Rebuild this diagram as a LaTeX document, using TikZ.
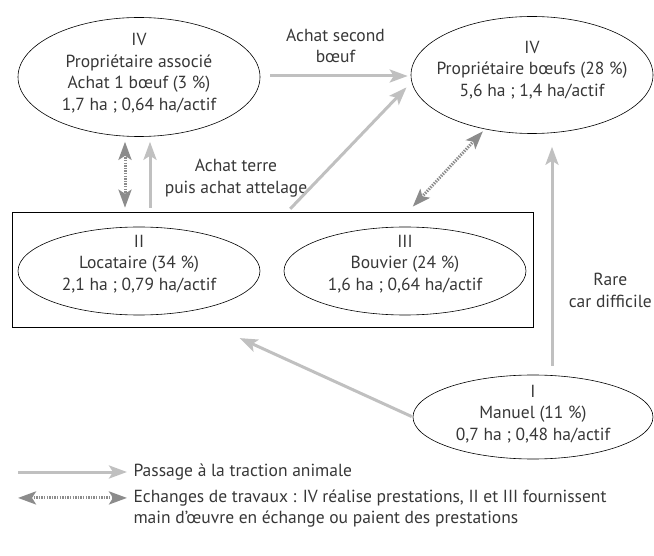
\documentclass[tikz,border=0pt]{standalone}
\usepackage{fontspec}
\setmainfont{PT Sans}
\usetikzlibrary{arrows.meta,shapes.geometric}
\definecolor{passgray}{RGB}{192,192,192}
\definecolor{swapgray}{RGB}{140,140,140}
\definecolor{textgray}{RGB}{55,55,55}
\tikzset{
  >={Stealth[length=18pt,width=13pt,inset=4pt]}   % default arrowhead
}

\begin{document}
\begin{tikzpicture}[x=1pt,y=-1pt,
  font=\fontsize{17.5}{21.5}\selectfont,text=textgray,
  group/.style={ellipse,draw,line width=0.6pt,inner sep=0pt,minimum width=242pt},
  pass/.style={->,draw=passgray,line width=3pt},
  swap/.style={<->,draw=swapgray,line width=3pt,dash pattern=on 1.4pt off 1.2pt}]
	\useasboundingbox (0,0) rectangle (654,556);

	% owners
	\node[group,minimum height=119pt,label={[align=center,yshift=4pt]center:{IV\\Propriétaire associé\\Achat 1 bœuf (3 \%)\\1,7 ha ; 0,64 ha/actif}}] (A) at (139,77) {};
	\node[group,minimum height=117pt,label={[align=center,yshift=5pt]center:{IV\\Propriétaire bœufs (28 \%)\\5,6 ha ; 1,4 ha/actif}}] (B) at (532,75) {};

	% tenants and herders
	\node[draw,line width=0.6pt,minimum width=521pt,minimum height=115pt] (R) at (272.5,269.5) {};
	\node[group,minimum height=88pt,label={[align=center,yshift=7pt]center:{II\\Locataire (34 \%)\\2,1 ha ; 0,79 ha/actif}}] (II) at (139,271) {};
	\node[group,minimum height=88pt,label={[align=center,yshift=7pt]center:{III\\Bouvier (24 \%)\\1,6 ha ; 0,64 ha/actif}}] (III) at (405,271) {};

	% manual
	\node[group,minimum width=240pt,minimum height=84pt,label={[align=center,yshift=3pt]center:{I\\Manuel (11 \%)\\0,7 ha ; 0,48 ha/actif}}] (I) at (533,417) {};

	% transitions
	\draw[pass,shorten <=10pt,shorten >=3pt] ([yshift=1pt]A.east) -- ([yshift=1pt]A.east -| B.west)
		node[midway,above=8pt,align=center] (l1) {Achat second\\bœuf};
	\draw[pass,shorten <=4pt,shorten >=5pt] ([xshift=11pt]A.south |- R.north) -- ([xshift=11pt]A.south)
		node[pos=0.45,right=10pt,align=center] (l2) {Achat terre\\puis achat attelage};
	\draw[pass,shorten <=4pt,shorten >=6pt] ([xshift=15pt]R.north) -- ([yshift=-8pt]B.west);
	\draw[pass,shorten <=9pt,shorten >=13pt] ([xshift=19pt]I.north) -- ([xshift=19pt]I.north |- B.south)
		node[pos=0.35,right=12pt,align=center] (l3) {Rare\\car difficile};
	\draw[pass,shorten <=1pt,shorten >=26pt] (I.west) -- ([xshift=-56.5pt]R.south);

	% exchanges of work
	\draw[swap,shorten <=5pt,shorten >=4pt] ([xshift=-14pt]A.south) -- ([xshift=-14pt]A.south |- R.north);
	\draw[swap,shorten <=3pt,shorten >=7pt] (B.229) -- ([xshift=3pt]III.north |- R.north);

	% legend
	\node[anchor=west] (leg1) at (130,472) {Passage à la traction animale};
	\node[anchor=north west,align=left] (leg2) at (130,486)
		{Echanges de travaux : IV réalise prestations, II et III fournissent\\main d’œuvre en échange ou paient des prestations};
	\draw[pass] ([xshift=-112pt]leg1.west) -- ([xshift=-3pt]leg1.west);
	\draw[swap] ([xshift=-112pt,yshift=10.5pt]leg2.west) -- ([xshift=-3pt,yshift=10.5pt]leg2.west);

\end{tikzpicture}
\end{document}
